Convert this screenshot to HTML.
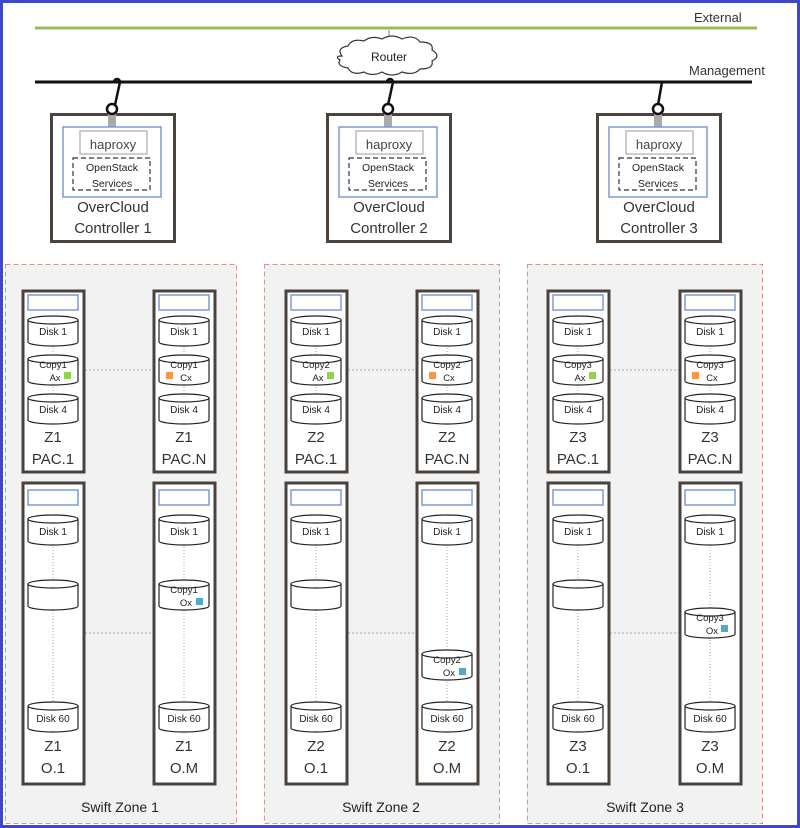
<!DOCTYPE html>
<html><head><meta charset="utf-8"><style>
html,body{margin:0;padding:0;background:#fff}
svg{display:block}
text{font-family:"Liberation Sans",sans-serif}
</style></head><body>
<svg width="800" height="828" viewBox="0 0 800 828" xmlns="http://www.w3.org/2000/svg">
<defs>
<g id="cyl"><path d="M0,4 v22 a25,4 0 0 0 50,0 v-22" fill="#fff" stroke="#222" stroke-width="1.2"/><ellipse cx="25" cy="4" rx="25" ry="4" fill="#fff" stroke="#222" stroke-width="1.2"/></g>
<g id="pac">
<rect x="1" y="1" width="61" height="181" fill="#fff" stroke="#4a423c" stroke-width="3"/>
<rect x="6" y="5" width="50" height="15" fill="#fff" stroke="#7b9ad6" stroke-width="1.5"/>
<line x1="31" y1="55" x2="31" y2="65" stroke="#aaa" stroke-dasharray="1,2"/>
<line x1="31" y1="94" x2="31" y2="104" stroke="#aaa" stroke-dasharray="1,2"/>
<use href="#cyl" x="6" y="26"/><use href="#cyl" x="6" y="65"/><use href="#cyl" x="6" y="104"/>
</g>
<g id="obj">
<rect x="1" y="1" width="61" height="301" fill="#fff" stroke="#4a423c" stroke-width="3"/>
<rect x="6" y="8" width="50" height="15" fill="#fff" stroke="#7b9ad6" stroke-width="1.5"/>
<line x1="31" y1="62" x2="31" y2="220" stroke="#aaa" stroke-dasharray="1,2"/>
<use href="#cyl" x="6" y="33"/><use href="#cyl" x="6" y="220"/>
</g>
<g id="ctl">
<rect x="1.5" y="1.5" width="123" height="127" fill="#fff" stroke="#4a423c" stroke-width="3"/>
<rect x="58" y="0" width="8" height="14" fill="#aaa"/>
<rect x="13" y="14" width="98" height="70" fill="#fff" stroke="#7b9ad6" stroke-width="1.5"/>
<rect x="30" y="18" width="67" height="23" fill="#fff" stroke="#bbb" stroke-width="1.5"/>
<rect x="23" y="45" width="77" height="32" fill="#fff" stroke="#333" stroke-width="1.2" stroke-dasharray="5,3"/>
<circle cx="62" cy="-4" r="5" fill="#fff" stroke="#111" stroke-width="2.5"/>
</g>
</defs>
<rect x="1.5" y="1.5" width="797" height="825" fill="#fff" stroke="#3f48cc" stroke-width="3"/>
<!-- networks -->
<line x1="35" y1="28" x2="757" y2="28" stroke="#9bbb59" stroke-width="3"/>
<text x="694" y="22" font-size="13" fill="#333">External</text>
<line x1="35" y1="82" x2="752" y2="82" stroke="#111" stroke-width="3"/>
<text x="689" y="75" font-size="13" fill="#333">Management</text>
<line x1="389" y1="30" x2="389" y2="42" stroke="#aaa" stroke-width="1.5"/>
<path d="M342,56 q-6,-8 6,-10 q4,-8 16,-5 q8,-6 18,-2 q10,-6 20,0 q12,-5 18,3 q14,0 12,8 q10,6 0,11 q2,8 -12,8 q-6,7 -18,3 q-10,6 -20,0 q-10,5 -18,0 q-12,4 -16,-4 q-12,-2 -8,-8 q-6,-4 2,-4z" fill="#fff" stroke="#333" stroke-width="1.2"/>
<text x="389" y="61" font-size="12" text-anchor="middle" fill="#222">Router</text>
<path d="M114,82 a3,3 0 0 1 6,0 l-5,23" fill="none" stroke="#111" stroke-width="2.5"/>
<path d="M387,82 a3,3 0 0 1 6,0 l-5,23" fill="none" stroke="#111" stroke-width="2.5"/>
<path d="M662,82 l-4,23" fill="none" stroke="#111" stroke-width="2.5"/>
<use href="#ctl" x="50" y="113"/><use href="#ctl" x="326" y="113"/><use href="#ctl" x="596" y="113"/>
<g font-size="13" text-anchor="middle" fill="#444">
<text x="113" y="149">haproxy</text><text x="389" y="149">haproxy</text><text x="659" y="149">haproxy</text>
</g>
<g font-size="10.5" text-anchor="middle" fill="#222">
<text x="112" y="171">OpenStack</text><text x="112" y="187">Services</text>
<text x="388" y="171">OpenStack</text><text x="388" y="187">Services</text>
<text x="658" y="171">OpenStack</text><text x="658" y="187">Services</text>
</g>
<g font-size="15" text-anchor="middle" fill="#333">
<text x="113" y="212">OverCloud</text><text x="113" y="233">Controller 1</text>
<text x="389" y="212">OverCloud</text><text x="389" y="233">Controller 2</text>
<text x="659" y="212">OverCloud</text><text x="659" y="233">Controller 3</text>
</g>
<!-- zones -->
<g fill="#f2f2f2" stroke="#d99694" stroke-width="1" stroke-dasharray="5,3">
<rect x="5.5" y="264.5" width="231" height="559"/>
<rect x="264.5" y="264.5" width="235" height="559"/>
<rect x="527.5" y="264.5" width="235" height="559"/>
</g>
<g stroke="#aaa" stroke-dasharray="2,2">
<line x1="85" y1="370" x2="153" y2="370"/><line x1="85" y1="633" x2="153" y2="633"/>
<line x1="348" y1="370" x2="416" y2="370"/><line x1="348" y1="633" x2="416" y2="633"/>
<line x1="610" y1="370" x2="679" y2="370"/><line x1="610" y1="633" x2="679" y2="633"/>
</g>
<use href="#pac" x="22" y="290"/><use href="#pac" x="153" y="290"/>
<use href="#pac" x="285" y="290"/><use href="#pac" x="416" y="290"/>
<use href="#pac" x="547" y="290"/><use href="#pac" x="679" y="290"/>
<use href="#obj" x="22" y="482"/><use href="#obj" x="153" y="482"/>
<use href="#obj" x="285" y="482"/><use href="#obj" x="416" y="482"/>
<use href="#obj" x="547" y="482"/><use href="#obj" x="679" y="482"/>
<!-- middle cylinders in O -->
<use href="#cyl" x="28" y="580"/><use href="#cyl" x="159" y="580"/>
<use href="#cyl" x="291" y="580"/><use href="#cyl" x="422" y="650"/>
<use href="#cyl" x="553" y="580"/><use href="#cyl" x="685" y="608"/>
<g font-size="10" text-anchor="middle" fill="#222">
<text x="53" y="335">Disk 1</text><text x="184" y="335">Disk 1</text><text x="316" y="335">Disk 1</text><text x="447" y="335">Disk 1</text><text x="578" y="335">Disk 1</text><text x="710" y="335">Disk 1</text>
<text x="53" y="413">Disk 4</text><text x="184" y="413">Disk 4</text><text x="316" y="413">Disk 4</text><text x="447" y="413">Disk 4</text><text x="578" y="413">Disk 4</text><text x="710" y="413">Disk 4</text>
<text x="53" y="535">Disk 1</text><text x="184" y="535">Disk 1</text><text x="316" y="535">Disk 1</text><text x="447" y="535">Disk 1</text><text x="578" y="535">Disk 1</text><text x="710" y="535">Disk 1</text>
<text x="53" y="722">Disk 60</text><text x="184" y="722">Disk 60</text><text x="316" y="722">Disk 60</text><text x="447" y="722">Disk 60</text><text x="578" y="722">Disk 60</text><text x="710" y="722">Disk 60</text>
</g>
<g font-size="9.5" text-anchor="middle" fill="#222">
<text x="53" y="368">Copy1</text><text x="55" y="381">Ax</text>
<text x="184" y="368">Copy1</text><text x="186" y="381">Cx</text>
<text x="316" y="368">Copy2</text><text x="318" y="381">Ax</text>
<text x="447" y="368">Copy2</text><text x="449" y="381">Cx</text>
<text x="578" y="368">Copy3</text><text x="580" y="381">Ax</text>
<text x="710" y="368">Copy3</text><text x="712" y="381">Cx</text>
<text x="184" y="593">Copy1</text><text x="186" y="606">Ox</text>
<text x="447" y="663">Copy2</text><text x="449" y="676">Ox</text>
<text x="710" y="621">Copy3</text><text x="712" y="634">Ox</text>
</g>
<g>
<rect x="64" y="372" width="7" height="7" fill="#92d050"/><rect x="327" y="372" width="7" height="7" fill="#92d050"/><rect x="589" y="372" width="7" height="7" fill="#92d050"/>
<rect x="166" y="372" width="7" height="7" fill="#f79646"/><rect x="429" y="372" width="7" height="7" fill="#f79646"/><rect x="692" y="372" width="7" height="7" fill="#f79646"/>
<rect x="196" y="598" width="7" height="7" fill="#4bacc6"/><rect x="459" y="668" width="7" height="7" fill="#4bacc6"/><rect x="721" y="625" width="7" height="7" fill="#4bacc6"/>
</g>
<g font-size="15" text-anchor="middle" fill="#333">
<text x="53" y="442">Z1</text><text x="53" y="464">PAC.1</text>
<text x="184" y="442">Z1</text><text x="184" y="464">PAC.N</text>
<text x="316" y="442">Z2</text><text x="316" y="464">PAC.1</text>
<text x="447" y="442">Z2</text><text x="447" y="464">PAC.N</text>
<text x="578" y="442">Z3</text><text x="578" y="464">PAC.1</text>
<text x="710" y="442">Z3</text><text x="710" y="464">PAC.N</text>
<text x="53" y="751">Z1</text><text x="53" y="773">O.1</text>
<text x="184" y="751">Z1</text><text x="184" y="773">O.M</text>
<text x="316" y="751">Z2</text><text x="316" y="773">O.1</text>
<text x="447" y="751">Z2</text><text x="447" y="773">O.M</text>
<text x="578" y="751">Z3</text><text x="578" y="773">O.1</text>
<text x="710" y="751">Z3</text><text x="710" y="773">O.M</text>
</g>
<g font-size="14" text-anchor="middle" fill="#222">
<text x="120" y="812">Swift Zone 1</text><text x="381" y="812">Swift Zone 2</text><text x="645" y="812">Swift Zone 3</text>
</g>
</svg>
</body></html>
